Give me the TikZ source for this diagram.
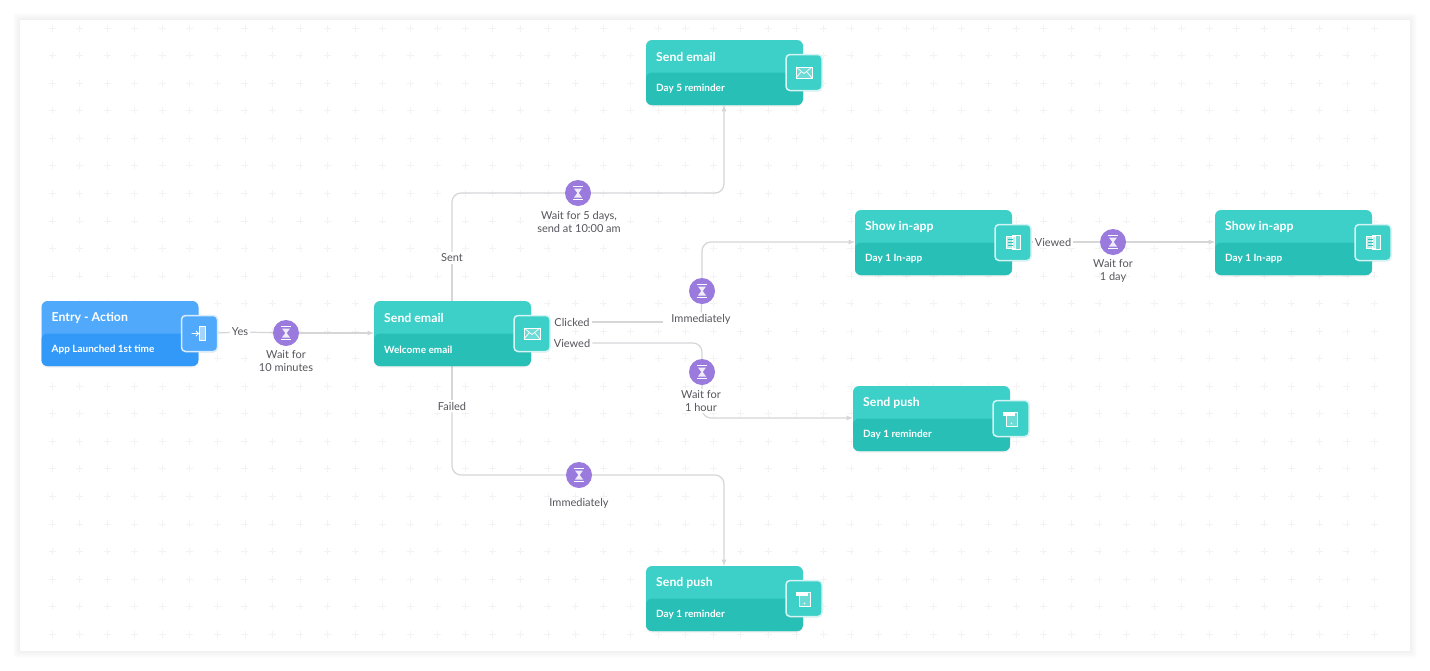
\documentclass[tikz,border=0pt]{standalone}
\usepackage{fontspec}
\setmainfont{Lato}
\usetikzlibrary{shadows}

\definecolor{tealtop}{HTML}{3DD0C8}
\definecolor{tealbot}{HTML}{28BFB7}
\definecolor{bluetop}{HTML}{50A9FB}
\definecolor{bluebot}{HTML}{3299F8}
\definecolor{waitcol}{HTML}{9A7BDD}
\definecolor{linecol}{HTML}{D6D6D9}
\definecolor{textcol}{HTML}{55565C}
\definecolor{gridcol}{HTML}{F3F3F3}

\tikzset{
  tealcard/.style={minimum width=157pt,minimum height=65pt,inner sep=0pt,rounded corners=6pt,fill=tealtop,drop shadow={opacity=.12,shadow xshift=0pt,shadow yshift=-1.5pt},
    path picture={\fill[tealbot] (path picture bounding box.west) rectangle (path picture bounding box.south east);}},
  bluecard/.style={minimum width=157pt,minimum height=65pt,inner sep=0pt,rounded corners=6pt,fill=bluetop,drop shadow={opacity=.12,shadow xshift=0pt,shadow yshift=-1.5pt},
    path picture={\fill[bluebot] (path picture bounding box.west) rectangle (path picture bounding box.south east);}},
  cardtitle/.style={anchor=west,inner sep=0pt,text=white,font=\bfseries\fontsize{12.3}{14}\selectfont},
  cardsub/.style={anchor=west,inner sep=0pt,text=white,font=\bfseries\fontsize{10}{12}\selectfont},
  iconbox/.style={minimum size=36pt,inner sep=0pt,rounded corners=4pt,draw=#1!22!white,line width=1.5pt},
  link/.style={draw=linecol,line width=1.2pt,rounded corners=9pt},
  arrowlink/.style={link,-latex},
  waitnode/.style={circle,fill=waitcol,minimum size=26pt,inner sep=0pt},
  lbl/.style={fill=white,inner sep=2pt,text=textcol,align=center,font=\fontsize{11}{13}\selectfont},
  waitlbl/.style={text=textcol,align=center,inner sep=0pt,font=\fontsize{11}{13}\selectfont},
  glyph/.style={draw=white,line width=.7pt,fill=white,fill opacity=.25},
  pics/hourglass/.style={code={
    \fill[white,opacity=.85] (-4,-4.5) -- (4,-4.5) -- (.7,0) -- (4,4.5) -- (-4,4.5) -- (-.7,0) -- cycle;
    \draw[white,line width=1pt] (-5,-6.5) -- (5,-6.5) (-5,6.5) -- (5,6.5);
  }},
  pics/mailicon/.style={code={
    \draw[glyph] (-8,-5.5) rectangle (8,5.5);
    \draw[white,line width=.7pt] (-8,-5.5) -- (0,1) -- (8,-5.5) (-8,5.5) -- (-2.5,-1) (8,5.5) -- (2.5,-1);
  }},
  pics/doorin/.style={code={
    \draw[glyph,fill opacity=.5] (0,-7) rectangle (6,7);
    \draw[white,line width=.9pt] (-8,0) -- (-1,0) (-3.5,-2.5) -- (-1,0) -- (-3.5,2.5);
  }},
  pics/pagesicon/.style={code={
    \draw[glyph] (-1,-7) rectangle (7,7);
    \draw[glyph,fill opacity=.6] (-7,-6) rectangle (2,6);
    \draw[tealbot,line width=.7pt] (-5,-3) -- (0,-3) (-5,0) -- (0,0) (-5,3) -- (0,3);
  }},
  pics/pushicon/.style={code={
    \draw[glyph] (-5,-6) rectangle (6,8);
    \fill[white] (-8,-7) rectangle (4,-3);
    \fill[white] (.5,5) circle (.9);
  }}
}

% card with its two texts and the icon box on the right edge
\newcommand{\flowcard}[7]{%
  \node[#6] (#1) at (#2,#3) {};
  \node[cardtitle] (#1title) at (#2-68.5,#3-16) {#4};
  \node[cardsub] (#1sub) at (#2-68.5,#3+16.5) {#5};
  \node[iconbox=#7,fill=#7,drop shadow={opacity=.18,shadow xshift=0pt,shadow yshift=-1pt}] (#1icon) at (#2+79.5,#3) {};
}

\begin{document}
\begin{tikzpicture}[x=1pt,y=-1pt]
\useasboundingbox (0,0) rectangle (1430,670);

% panel
\foreach \s in {1,...,7}
  \fill[black,opacity=.008,rounded corners=3pt] (20-\s,20-\s) rectangle (1410+\s,651+\s);
\fill[white] (20,20) rectangle (1410,651);

% background marks
\foreach \i in {0,...,48}
  \foreach \j in {0,...,22}
    \draw[gridcol,line width=.7pt] (52+27.55*\i-3.5,28+27.55*\j) -- ++(7,0) (52+27.55*\i,28+27.55*\j-3.5) -- ++(0,7);

% waits and labels first, so that connectors can name them
\node[waitnode] (waitTen) at (286,333) {};
\node[waitnode] (waitFive) at (578,193) {};
\node[waitnode] (waitNow) at (702,291) {};
\node[waitnode] (waitHour) at (702,372) {};
\node[waitnode] (waitFail) at (579,475) {};
\node[waitnode] (waitDay) at (1113,242) {};

\node[lbl] (yes) at (240,332) {Yes};
\node[lbl] (sent) at (452,258) {Sent};
\node[lbl] (failed) at (452,406) {Failed};
\node[lbl] (clicked) at (572,322) {Clicked};
\node[lbl] (viewed) at (572,343) {Viewed};
\node[lbl,inner xsep=8pt] (nowlbl) at (701,319.5) {Immediately};
\node[lbl] (viewedb) at (1053,242) {Viewed};
\coordinate (cornerTopL) at (452,193);
\coordinate (cornerTopR) at (724,193);
\coordinate (cornerFailL) at (452,475);
\coordinate (cornerFailR) at (724,475);
\coordinate (cornerApp) at (702,242);
\coordinate (cornerView) at (702,343);
\coordinate (cornerPush) at (702,418);

% connectors, under the cards
\coordinate (welcomeN) at (452,301);
\coordinate (welcomeS) at (452,366);
\coordinate (reminderS) at (724,105);
\coordinate (pushS) at (724,566);
\coordinate (clickedEnd) at (663,322);

\draw[link] (218,333) -- (yes);
\draw[link] (yes) -- (waitTen);
\draw[arrowlink] (waitTen) -- (374,333);
\draw[link] (welcomeN) -- (sent);
\draw[link] (sent) -- (cornerTopL) -- (waitFive);
\draw[arrowlink] (waitFive) -- (cornerTopR) -- (reminderS);
\draw[link] (welcomeS) -- (failed);
\draw[link] (failed) -- (cornerFailL) -- (waitFail);
\draw[arrowlink] (waitFail) -- (cornerFailR) -- (pushS);
\draw[link] (clicked) -- (clickedEnd);
\draw[link] (nowlbl) -- (waitNow);
\draw[arrowlink] (waitNow) -- (cornerApp) -- (855,242);
\draw[link] (viewed) -- (cornerView) -- (waitHour);
\draw[arrowlink] (waitHour) -- (cornerPush) -- (853,418);
\draw[link] (1031,242) -- (viewedb);
\draw[link] (viewedb) -- (waitDay);
\draw[arrowlink] (waitDay) -- (1215,242);

% cards
\flowcard{entry}{120}{333.5}{Entry - Action}{App Launched 1st time}{bluecard}{bluetop}
\flowcard{welcome}{452.5}{333.5}{Send email}{Welcome email}{tealcard}{tealtop}
\flowcard{reminder}{724.5}{72.5}{Send email}{Day 5 reminder}{tealcard}{tealtop}
\flowcard{appone}{933.5}{242.5}{Show in-app}{Day 1 In-app}{tealcard}{tealtop}
\flowcard{apptwo}{1293.5}{242.5}{Show in-app}{Day 1 In-app}{tealcard}{tealtop}
\flowcard{pushone}{931.5}{418.5}{Send push}{Day 1 reminder}{tealcard}{tealtop}
\flowcard{pushtwo}{724.5}{598.5}{Send push}{Day 1 reminder}{tealcard}{tealtop}

% icons
\pic at (entryicon) {doorin};
\pic at (welcomeicon) {mailicon};
\pic at (remindericon) {mailicon};
\pic at (apponeicon) {pagesicon};
\pic at (apptwoicon) {pagesicon};
\pic at (pushoneicon) {pushicon};
\pic at (pushtwoicon) {pushicon};

% wait glyphs and texts
\pic at (waitTen) {hourglass};
\pic at (waitFive) {hourglass};
\pic at (waitNow) {hourglass};
\pic at (waitHour) {hourglass};
\pic at (waitFail) {hourglass};
\pic at (waitDay) {hourglass};

\node[waitlbl] at (286,361) {Wait for\\10 minutes};
\node[waitlbl] at (579,221.5) {Wait for 5 days,\\send at 10:00 am};
\node[lbl,inner sep=1pt] at (701,401) {Wait for\\1 hour};
\node[waitlbl] at (579,503) {Immediately};
\node[waitlbl] at (1113,271) {Wait for\\1 day};

\end{tikzpicture}
\end{document}
